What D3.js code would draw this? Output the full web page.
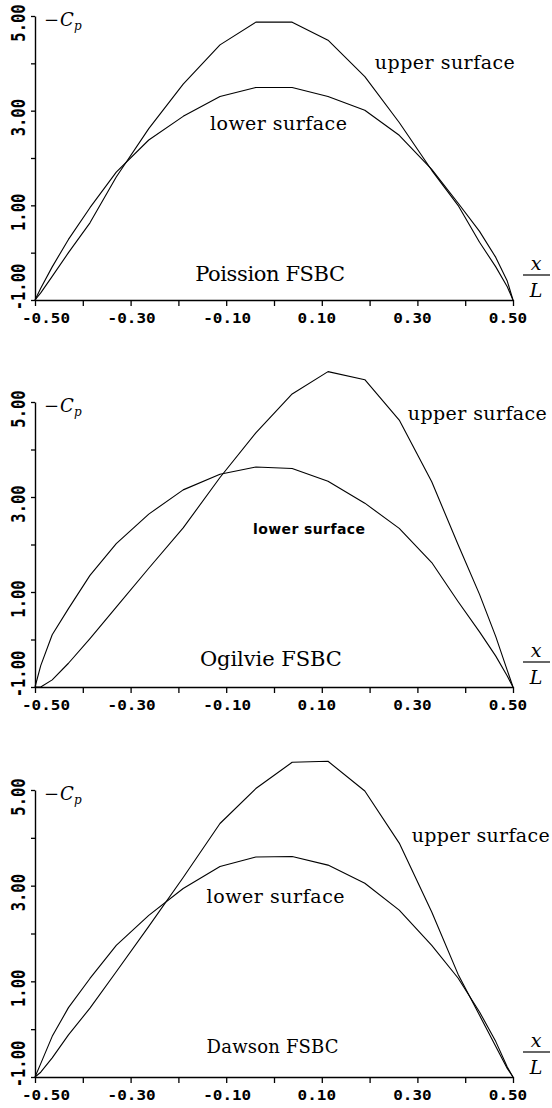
<!DOCTYPE html>
<html><head><meta charset="utf-8">
<script src="https://cdn.jsdelivr.net/npm/d3@7/dist/d3.min.js"></script>
<style>body{margin:0;background:#fff} svg{display:block}</style>
</head><body>
<svg id="c" width="552" height="1108"></svg>
<script>
// ---- data ----
const xStations = [-0.5, -0.488, -0.464, -0.43, -0.385, -0.33, -0.262, -0.19, -0.113, -0.038,
                   0.038, 0.113, 0.19, 0.262, 0.33, 0.385, 0.43, 0.464, 0.488, 0.5];
const poissonUpper = [-1, -0.85, -0.5, 0.0, 0.63, 1.6, 2.62, 3.56, 4.39, 4.87, 4.87, 4.49, 3.72, 2.75, 1.74, 1.0, 0.22, -0.3, -0.72, -1];
const poissonLower = [-1, -0.75, -0.3, 0.28, 0.95, 1.7, 2.38, 2.88, 3.30, 3.49, 3.49, 3.30, 3.01, 2.48, 1.76, 1.05, 0.45, -0.1, -0.6, -1];
const ogilvieUpper = [-1, -1.0, -0.85, -0.5, 0.02, 0.68, 1.5, 2.35, 3.41, 4.35, 5.17, 5.64, 5.47, 4.62, 3.32, 2.0, 0.95, 0.06, -0.65, -1];
const ogilvieLower = [-1, -0.55, 0.1, 0.65, 1.35, 2.02, 2.64, 3.15, 3.48, 3.63, 3.60, 3.33, 2.87, 2.34, 1.62, 0.8, 0.16, -0.35, -0.77, -1];
const dawsonUpper = [-1, -0.9, -0.6, -0.12, 0.44, 1.2, 2.15, 3.17, 4.3, 5.03, 5.58, 5.6, 4.98, 3.89, 2.45, 1.15, 0.29, -0.36, -0.82, -1];
const dawsonLower = [-1, -0.72, -0.15, 0.45, 1.06, 1.75, 2.38, 2.94, 3.40, 3.60, 3.61, 3.43, 3.05, 2.49, 1.75, 1.07, 0.36, -0.26, -0.79, -1];
const panelTitles = ["Poission FSBC", "Ogilvie FSBC", "Dawson FSBC"];
const xTicks = [-0.5, -0.4, -0.3, -0.2, -0.1, 0, 0.1, 0.2, 0.3, 0.4, 0.5];
const xLabelValues = [-0.5, -0.3, -0.1, 0.1, 0.3, 0.5];
const xLabelTexts = ["-0.50", "-0.30", "-0.10", "0.10", "0.30", "0.50"];
const yTicks = [-1, 0, 1, 2, 3, 4, 5];
const yLabelValues = [-1, 1, 3, 5];
const yLabelTexts = ["-1.00", "1.00", "3.00", "5.00"];

// ---- layout / styling ----
const svg = d3.select("#c");
const panels = [
  {top: 16, bottom: 300, upper: poissonUpper, lower: poissonLower,
   ann: [
     {t: "upper surface", x: 0.211, y: 3.88, w: 140, font: "DejaVu Serif", size: 19},
     {t: "lower surface", x: -0.134, y: 2.59, w: 137, font: "DejaVu Serif", size: 19},
     {t: panelTitles[0], x: -0.165, y: -0.6, w: 150, font: "DejaVu Serif", size: 21}
   ]},
  {top: 402, bottom: 687, upper: ogilvieUpper, lower: ogilvieLower,
   ann: [
     {t: "upper surface", x: 0.280, y: 4.62, w: 139, font: "DejaVu Serif", size: 19},
     {t: "lower surface", x: -0.044, y: 2.22, w: 112, font: "DejaVu Sans", size: 14, weight: "bold"},
     {t: panelTitles[1], x: -0.155, y: -0.56, w: 142, font: "DejaVu Serif", size: 21}
   ]},
  {top: 790, bottom: 1077, upper: dawsonUpper, lower: dawsonLower,
   ann: [
     {t: "upper surface", x: 0.288, y: 3.91, w: 138, font: "DejaVu Serif", size: 19},
     {t: "lower surface", x: -0.141, y: 2.64, w: 138, font: "DejaVu Serif", size: 19},
     {t: panelTitles[2], x: -0.141, y: -0.5, w: 132, font: "DejaVu Serif", size: 18}
   ]}
];

const x = d3.scaleLinear().domain([-0.5, 0.5]).range([35, 513]);

panels.forEach(p => {
  const y = d3.scaleLinear().domain([-1, 5]).range([p.bottom, p.top]);
  const g = svg.append("g");

  // axes
  const ya = g.append("g").attr("transform", `translate(${x(-0.5)},0)`)
    .call(d3.axisLeft(y).tickValues(yTicks).tickSize(4).tickSizeOuter(0).tickFormat(""));
  const xa = g.append("g").attr("transform", `translate(0,${y(-1)})`)
    .call(d3.axisBottom(x).tickValues(xTicks).tickSize(6).tickSizeOuter(0).tickFormat(""));
  [ya, xa].forEach(a => {
    a.selectAll("path").attr("stroke", "#000").attr("stroke-width", 1.4);
    a.selectAll("line").attr("stroke", "#000").attr("stroke-width", 1.3);
  });

  // x tick labels
  g.selectAll("text.xl").data(xLabelValues).enter().append("text")
    .attr("class", "xl")
    .attr("x", (d) => x(d) + (d === -0.5 ? 11 : d < 0 ? 1 : -5))
    .attr("y", y(-1) + 23)
    .attr("text-anchor", "middle")
    .attr("font-family", "DejaVu Sans Mono").attr("font-weight", "bold").attr("font-size", 14)
    .attr("textLength", (d, i) => xLabelTexts[i].length * 9.6)
    .attr("lengthAdjust", "spacingAndGlyphs")
    .text((d, i) => xLabelTexts[i]);

  // y tick labels (rotated, glyphs stretched vertically)
  g.selectAll("text.yl").data(yLabelValues).enter().append("text")
    .attr("class", "yl")
    .attr("transform", d => `translate(25,${y(d) + (d === -1 ? -13 : 7)}) rotate(-90) scale(1,1.3)`)
    .attr("text-anchor", "middle")
    .attr("font-family", "DejaVu Sans Mono").attr("font-weight", "bold").attr("font-size", 15.5)
    .text((d, i) => yLabelTexts[i]);

  // curves
  const line = d3.line().x((d, i) => x(xStations[i])).y(d => y(d));
  [p.upper, p.lower].forEach(s => {
    g.append("path").datum(s).attr("d", line)
      .attr("fill", "none").attr("stroke", "#000").attr("stroke-width", 1.1)
      .attr("stroke-linejoin", "round");
  });

  // annotations
  p.ann.forEach(a => {
    g.append("text").attr("x", x(a.x)).attr("y", y(a.y))
      .attr("font-family", a.font).attr("font-size", a.size)
      .attr("font-weight", a.weight || "normal")
      .attr("textLength", a.w).attr("lengthAdjust", "spacing")
      .attr("fill", "#000").text(a.t);
  });

  // -Cp label
  const cp = g.append("text").attr("x", x(-0.5) + 9).attr("y", p.top + 10)
    .attr("font-family", "DejaVu Serif").attr("font-size", 18).attr("fill", "#000");
  cp.append("tspan").text("\u2212");
  cp.append("tspan").attr("font-style", "italic").attr("dx", 1).text("C");
  cp.append("tspan").attr("font-style", "italic").attr("font-size", 12).attr("dy", 4).text("p");

  // x/L label
  const cx = 536;
  g.append("text").attr("x", cx).attr("y", p.bottom - 30).attr("text-anchor", "middle")
    .attr("font-family", "DejaVu Serif").attr("font-style", "italic").attr("font-size", 19).text("x");
  g.append("line").attr("x1", 523).attr("x2", 550).attr("y1", p.bottom - 25).attr("y2", p.bottom - 25)
    .attr("stroke", "#000").attr("stroke-width", 1.2);
  g.append("text").attr("x", cx).attr("y", p.bottom - 3).attr("text-anchor", "middle")
    .attr("font-family", "DejaVu Serif").attr("font-style", "italic").attr("font-size", 19).text("L");
});
</script>
</body></html>
